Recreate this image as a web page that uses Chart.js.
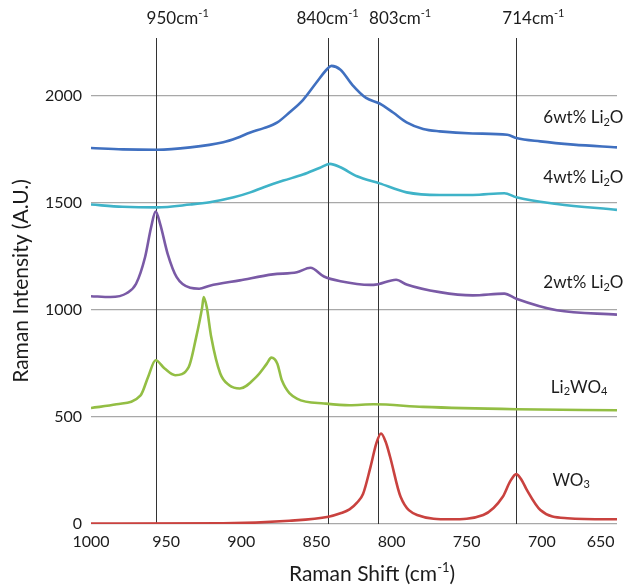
<!DOCTYPE html>
<html>
<head>
<meta charset="utf-8">
<script src="https://cdn.jsdelivr.net/npm/chart.js@4.4.0/dist/chart.umd.min.js"></script>
<style>
  html, body { margin: 0; padding: 0; background: #fff; }
  #wrap { width: 630px; height: 587px; }
</style>
</head>
<body>
<div id="wrap"><canvas id="ramanChart" width="630" height="587"></canvas></div>
<script>
// Raman shift (cm-1) and intensity, one pair of arrays per sample
const li6Shift = [1000, 979, 956, 934, 912, 903, 894, 885, 876, 868, 859, 850, 843, 840, 834, 826, 817, 808, 799, 790, 779, 768, 746, 723, 717, 701, 679, 650];
const li6Int   = [1756, 1750, 1748, 1759, 1783, 1803, 1829, 1849, 1876, 1922, 1980, 2062, 2124, 2140, 2122, 2050, 1990, 1964, 1922, 1876, 1845, 1834, 1824, 1818, 1803, 1787, 1772, 1759];

const li4Shift = [1000, 979, 956, 934, 921, 905, 894, 885, 872, 859, 848, 841, 834, 823, 808, 790, 768, 746, 725, 717, 690, 650];
const li4Int   = [1492, 1482, 1479, 1492, 1503, 1526, 1549, 1573, 1604, 1632, 1663, 1682, 1666, 1624, 1591, 1549, 1537, 1537, 1545, 1526, 1495, 1467];

const li2Shift = [1000, 987, 976, 970, 964, 960, 957, 954, 949, 943, 934, 928, 921, 901, 879, 863, 854, 845, 834, 814, 812, 797, 790, 768, 746, 725, 717, 690, 650];
const li2Int   = [1064, 1060, 1079, 1122, 1247, 1386, 1459, 1402, 1262, 1153, 1103, 1099, 1113, 1138, 1166, 1176, 1197, 1156, 1134, 1117, 1117, 1141, 1119, 1083, 1068, 1076, 1052, 998, 978];

const lwoShift = [1000, 983, 967, 962, 957, 951, 944, 935, 930, 926, 925, 923, 920, 914, 908, 901, 890, 883, 880, 876, 873, 863, 845, 828, 812, 779, 717, 650];
const lwoInt   = [542, 559, 601, 687, 765, 726, 695, 733, 873, 1013, 1060, 1013, 873, 703, 648, 633, 687, 749, 777, 749, 671, 586, 563, 555, 559, 547, 536, 531];

const wo3Shift = [1000, 912, 868, 842, 834, 828, 823, 819, 814, 810, 807, 804, 801, 794, 783, 761, 739, 726, 721, 717, 713, 710, 701, 683, 650];
const wo3Int   = [2, 3, 15, 34, 50, 68, 100, 140, 267, 380, 423, 385, 314, 127, 42, 22, 42, 127, 200, 233, 200, 159, 65, 27, 22];

const seriesNames  = ['6wt% Li2O', '4wt% Li2O', '2wt% Li2O', 'Li2WO4', 'WO3'];
const seriesColors = ['#4070c0', '#3fb3c8', '#7a5aa6', '#93be44', '#c9423f'];

// reference lines and their captions
const peakLines  = [957, 842, 809, 717];
const peakLabels = ['950', '840', '803', '714'];

const xTicks = [1000, 950, 900, 850, 800, 750, 700, 650];
const yTicks = [0, 500, 1000, 1500, 2000];

// where each series caption sits, in data units (shift, intensity)
const captionShift = [699, 699, 699, 694, 693];
const captionInt   = [1897, 1618, 1128, 639, 205];

const FONT = 'Lato';
const INK = '#1c1c1c';

const toPoints = (xs, ys) => xs.map((x, i) => ({ x: x, y: ys[i] }));
const allSeries = [
  toPoints(li6Shift, li6Int),
  toPoints(li4Shift, li4Int),
  toPoints(li2Shift, li2Int),
  toPoints(lwoShift, lwoInt),
  toPoints(wo3Shift, wo3Int),
];

// parts: [text, 'n' | 'sub' | 'sup']
function drawRich(ctx, parts, x, y, size, align) {
  const small = Math.round(size * 0.62);
  let total = 0;
  const widths = parts.map(([t, k]) => {
    ctx.font = (k === 'n' ? size : small) + 'px ' + FONT;
    const w = ctx.measureText(t).width;
    total += w;
    return w;
  });
  let cx = align === 'center' ? x - total / 2 : x;
  ctx.textAlign = 'left';
  ctx.textBaseline = 'middle';
  parts.forEach(([t, k], i) => {
    ctx.font = (k === 'n' ? size : small) + 'px ' + FONT;
    let dy = 0;
    if (k === 'sub') dy = size * 0.28;
    if (k === 'sup') dy = -size * 0.3;
    ctx.fillText(t, cx, y + dy);
    cx += widths[i];
  });
}

// chemical formula digits (a digit right after a letter) become subscripts
function formulaParts(name) {
  const parts = [];
  for (let i = 0; i < name.length; i++) {
    const ch = name[i];
    const kind = /\d/.test(ch) && i > 0 && /[A-Za-z]/.test(name[i - 1]) ? 'sub' : 'n';
    const last = parts[parts.length - 1];
    if (last && last[1] === kind) last[0] += ch;
    else parts.push([ch, kind]);
  }
  return parts;
}

const annotations = {
  id: 'annotations',
  beforeDatasetsDraw(chart) {
    const { ctx, chartArea, scales } = chart;
    ctx.save();
    ctx.strokeStyle = '#333';
    ctx.lineWidth = 1;
    peakLines.forEach((v) => {
      const px = Math.round(scales.x.getPixelForValue(v)) + 0.5;
      ctx.beginPath();
      ctx.moveTo(px, chartArea.top);
      ctx.lineTo(px, chartArea.bottom);
      ctx.stroke();
    });
    ctx.restore();
  },
  afterDraw(chart) {
    const { ctx, chartArea, scales } = chart;
    ctx.save();
    ctx.fillStyle = INK;

    // captions above the reference lines
    const labelDx = [-9, -32, -9, -14];
    peakLines.forEach((v, i) => {
      const px = scales.x.getPixelForValue(v) + labelDx[i];
      drawRich(ctx, [[peakLabels[i] + 'cm', 'n'], ['-1', 'sup']], px, 19, 17, 'left');
    });

    // series captions on the right
    seriesNames.forEach((name, i) => {
      const px = scales.x.getPixelForValue(captionShift[i]);
      const py = scales.y.getPixelForValue(captionInt[i]);
      drawRich(ctx, formulaParts(name), px, py, 17, 'left');
    });

    // x axis title with superscript
    const cx = (chartArea.left + chartArea.right) / 2 + 18;
    drawRich(ctx, [['Raman Shift (cm', 'n'], ['-1', 'sup'], [')', 'n']], cx, 574, 21, 'center');
    ctx.restore();
  },
};

new Chart(document.getElementById('ramanChart'), {
  type: 'line',
  data: {
    datasets: allSeries.map((pts, i) => ({
      label: seriesNames[i],
      data: pts,
      borderColor: seriesColors[i],
      borderWidth: 2.6,
      pointRadius: 0,
      fill: false,
      tension: 0.4,
      cubicInterpolationMode: 'monotone',
    })),
  },
  options: {
    responsive: false,
    animation: false,
    layout: { padding: { top: 38, right: 13, left: 0, bottom: 0 } },
    plugins: { legend: { display: false }, tooltip: { enabled: false } },
    scales: {
      x: {
        type: 'linear',
        reverse: true,
        min: 650,
        max: 1000,
        afterBuildTicks: (scale) => { scale.ticks = xTicks.map((v) => ({ value: v })); },
        afterFit: (scale) => { scale.height = 63; scale.paddingLeft = 0; scale.paddingRight = 0; },
        grid: { display: false, drawTicks: false },
        border: { display: false },
        ticks: {
          autoSkip: false,
          maxRotation: 0,
          padding: 8,
          color: INK,
          font: { family: FONT, size: 16 },
          // last label sits inside the plot edge like the original
          callback: (v) => (v === 650 ? '650' + '\u00a0'.repeat(8) : String(v)),
        },
      },
      y: {
        min: 0,
        max: 2270,
        afterBuildTicks: (scale) => { scale.ticks = yTicks.map((v) => ({ value: v })); },
        afterFit: (scale) => { scale.width = 91; },
        grid: { color: '#a8a8a8', lineWidth: 1.2, drawTicks: false },
        border: { display: false },
        ticks: {
          padding: 9,
          color: INK,
          font: { family: FONT, size: 16 },
          callback: (v) => String(v),
        },
        title: {
          display: true,
          text: 'Raman Intensity (A.U.)',
          color: INK,
          font: { family: FONT, size: 21 },
          padding: { top: 9, bottom: 0 },
        },
      },
    },
  },
  plugins: [annotations],
});
</script>
</body>
</html>
